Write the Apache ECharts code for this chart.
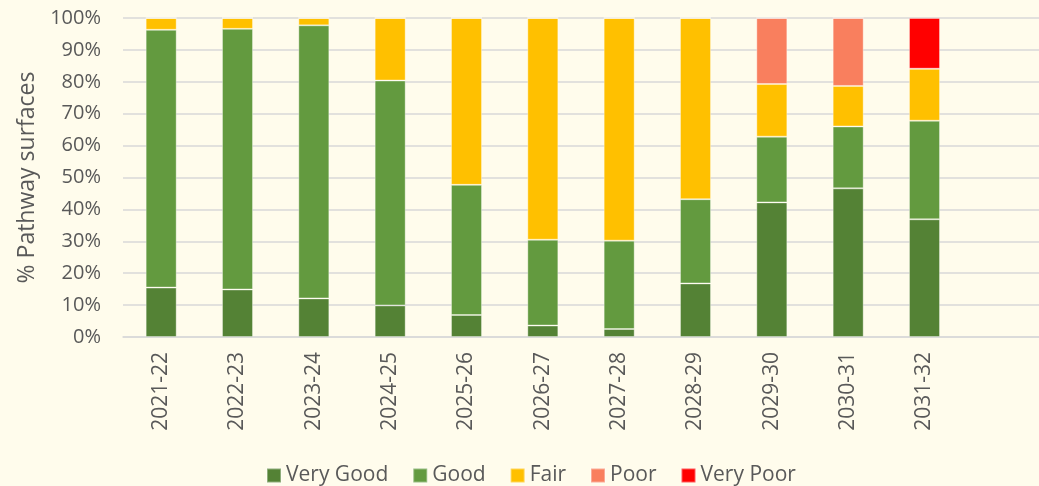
<!DOCTYPE html>
<html>
<head>
<meta charset="utf-8">
<style>
  html, body { margin: 0; padding: 0; background: #FFFCEC; }
  #chart { width: 1039px; height: 486px; }
</style>
<script src="https://cdn.jsdelivr.net/npm/echarts@6/dist/echarts.min.js"></script>
</head>
<body>
<div id="chart"></div>
<script>
// categories (the last slot is empty in the original chart)
const years = ['2021-22', '2022-23', '2023-24', '2024-25', '2025-26', '2026-27',
  '2027-28', '2028-29', '2029-30', '2030-31', '2031-32', '']

// % of pathway surfaces per condition
const veryGood = [15.5, 14.9, 12.1, 9.9, 6.9, 3.6, 2.5, 16.8, 42.2, 46.6, 36.9, null]
const good     = [80.8, 81.7, 85.6, 70.5, 40.8, 26.9, 27.7, 26.4, 20.6, 19.4, 30.9, null]
const fair     = [3.7, 3.4, 2.3, 19.6, 52.3, 69.5, 69.8, 56.8, 16.5, 12.7, 16.3, null]
const poor     = [0, 0, 0, 0, 0, 0, 0, 0, 20.7, 21.3, 0, null]
const veryPoor = [0, 0, 0, 0, 0, 0, 0, 0, 0, 0, 15.9, null]

const yTicks = [0, 10, 20, 30, 40, 50, 60, 70, 80, 90, 100]

const font = '"Open Sans", sans-serif'
const textColor = '#595959'

const mkSeries = (name, data, color) => ({
  name: name,
  type: 'bar',
  stack: 'total',
  data: data,
  barWidth: 31,
  itemStyle: {
    color: color,
    borderColor: 'rgba(255,255,255,0.35)',
    borderWidth: 1
  }
})

const chart = echarts.init(document.getElementById('chart'))

chart.setOption({
  backgroundColor: '#FFFCEC',
  animation: false,
  textStyle: { fontFamily: font },
  grid: { left: 123, right: 0, top: 18, bottom: 149 },
  legend: {
    left: 261,
    top: 460,
    itemWidth: 14,
    itemHeight: 14,
    itemGap: 24,
    icon: 'rect',
    textStyle: { fontFamily: font, fontSize: 21, color: textColor },
    data: ['Very Good', 'Good', 'Fair', 'Poor', 'Very Poor']
  },
  xAxis: {
    type: 'category',
    data: years,
    axisLine: { lineStyle: { color: '#D9D9D9', width: 1.5 } },
    axisTick: { show: false },
    axisLabel: {
      rotate: 90,
      margin: 15,
      interval: 0,
      fontFamily: font,
      fontSize: 21,
      color: textColor
    }
  },
  yAxis: {
    type: 'value',
    min: yTicks[0],
    max: yTicks[yTicks.length - 1],
    interval: 10,
    name: '% Pathway surfaces',
    nameLocation: 'middle',
    nameGap: 84,
    nameTextStyle: { fontFamily: font, fontSize: 23, color: textColor },
    axisLine: { show: false },
    axisTick: { show: false },
    splitLine: { lineStyle: { color: '#D9D9D9', width: 1.5 } },
    axisLabel: {
      formatter: '{value}%',
      margin: 22,
      fontFamily: font,
      fontSize: 20,
      color: textColor
    }
  },
  series: [
    mkSeries('Very Good', veryGood, '#548235'),
    mkSeries('Good', good, '#639A3F'),
    mkSeries('Fair', fair, '#FFC000'),
    mkSeries('Poor', poor, '#F97F5E'),
    mkSeries('Very Poor', veryPoor, '#FF0000')
  ]
})

window.addEventListener('resize', () => {
  chart.resize()
})
</script>
</body>
</html>
